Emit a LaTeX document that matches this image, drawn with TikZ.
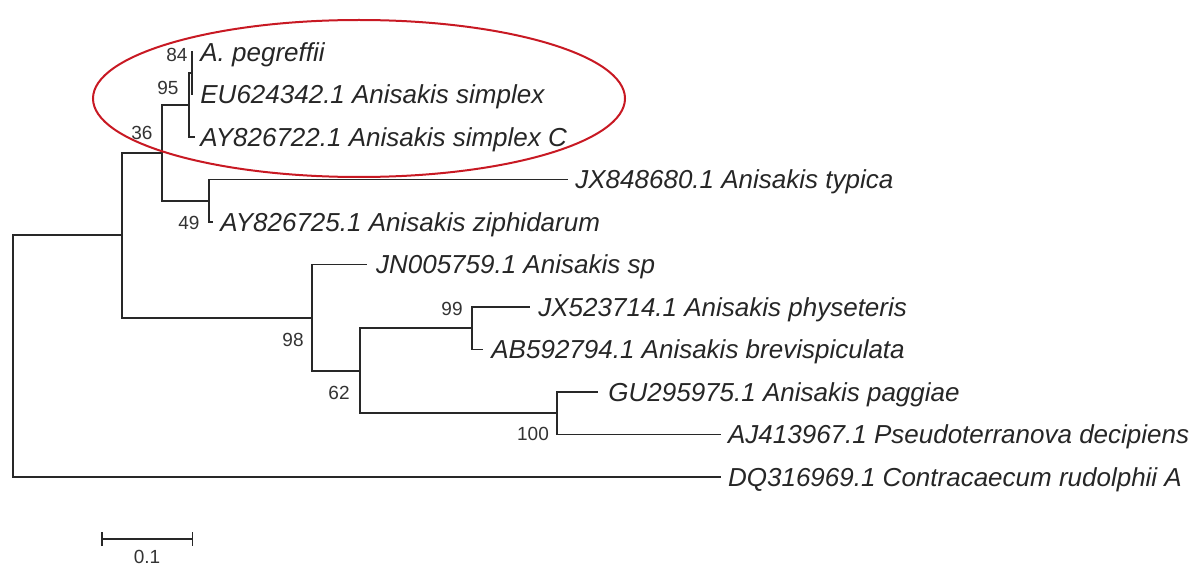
\documentclass[tikz,border=0pt]{standalone}
\usepackage{fontspec}
\setmainfont{Liberation Sans}
\usetikzlibrary{positioning,arrows.meta,shapes.geometric}
\definecolor{treegray}{RGB}{40,40,40}
\definecolor{cladered}{RGB}{200,25,35}

\begin{document}
\begin{tikzpicture}[x=0.5pt,y=-0.5pt,
  branch/.style={draw=treegray,line width=0.9pt},
  taxon/.style={font=\fontsize{13}{15}\selectfont\itshape,text=black!85,
    inner sep=0pt,text height=9.3pt,text depth=0pt},
  boot/.style={font=\fontsize{9.5}{11}\selectfont,text=black!80,inner sep=0pt}]
\useasboundingbox (0,0) rectangle (1194,567);
% Internal nodes
\coordinate (root) at (12.7,356.1);
\coordinate (nIn) at (121.7,235.3);
\coordinate (n36) at (161.7,152.9);
\coordinate (n95) at (189,105.1);
\coordinate (n84) at (191.7,73.3);
\coordinate (n49) at (209.3,200.8);
\coordinate (n98) at (312.3,317.6);
\coordinate (n62) at (360,370.8);
\coordinate (n99) at (472.3,328.3);
\coordinate (n100) at (557,413.3);
% Tips
\coordinate (tPeg) at (193,52);
\coordinate (tEU) at (193,94.5);
\coordinate (tAY22) at (195,137);
\coordinate (tJX80) at (568,179.5);
\coordinate (tAY25) at (213,222);
\coordinate (tJN) at (366.7,264.5);
\coordinate (tJX14) at (530,307);
\coordinate (tAB) at (483,349.5);
\coordinate (tGU) at (598,392);
\coordinate (tAJ) at (720.7,434.5);
\coordinate (tDQ) at (720.7,477);
% Branches
\foreach \p/\c in {root/nIn,root/tDQ,nIn/n36,nIn/n98,n36/n95,n36/n49,
  n95/n84,n95/tAY22,n84/tPeg,n84/tEU,n49/tJX80,n49/tAY25,n98/tJN,n98/n62,
  n62/n99,n62/n100,n99/tJX14,n99/tAB,n100/tGU,n100/tAJ}
  \draw[branch] (\p) |- (\c);
% Taxa
\node[taxon,right=3.5pt of tPeg] (lPeg) {A. pegreffii};
\node[taxon,right=3.5pt of tEU] (lEU) {EU624342.1 Anisakis simplex};
\node[taxon,right=2.5pt of tAY22] (lAY22) {AY826722.1 Anisakis simplex C};
\node[taxon,right=3.5pt of tJX80] (lJX80) {JX848680.1 Anisakis typica};
\node[taxon,right=3.5pt of tAY25] (lAY25) {AY826725.1 Anisakis ziphidarum};
\node[taxon,right=4.5pt of tJN] (lJN) {JN005759.1 Anisakis sp};
\node[taxon,right=4pt of tJX14] (lJX14) {JX523714.1 Anisakis physeteris};
\node[taxon,right=4pt of tAB] (lAB) {AB592794.1 Anisakis brevispiculata};
\node[taxon,right=5pt of tGU] (lGU) {GU295975.1 Anisakis paggiae};
\node[taxon,right=3.5pt of tAJ] (lAJ) {AJ413967.1 Pseudoterranova decipiens};
\node[taxon,right=3.5pt of tDQ] (lDQ) {DQ316969.1 Contracaecum rudolphii A};
% Bootstrap values
\node[boot] (b84) at (177,55) {84};
\node[boot] (b95) at (168,87.5) {95};
\node[boot] (b36) at (142,133) {36};
\node[boot] (b49) at (189,222.5) {49};
\node[boot] (b98) at (293,340) {98};
\node[boot] (b99) at (452,309) {99};
\node[boot] (b62) at (339,392.5) {62};
\node[boot] (b100) at (533,434) {100};
% Scale bar
\coordinate (sbL) at (100.7,539);
\coordinate (sbR) at (193.3,539);
\draw[branch,{Bar[width=7pt]}-{Bar[width=7pt]}] (sbL) -- (sbR);
\node[boot] (sbText) at (147,557) {0.1};
% Highlighted clade
\node[draw=cladered,line width=1pt,ellipse,inner sep=0pt,
  minimum width=266pt,minimum height=78.5pt] (clade) at (359,98.5) {};
\end{tikzpicture}
\end{document}
